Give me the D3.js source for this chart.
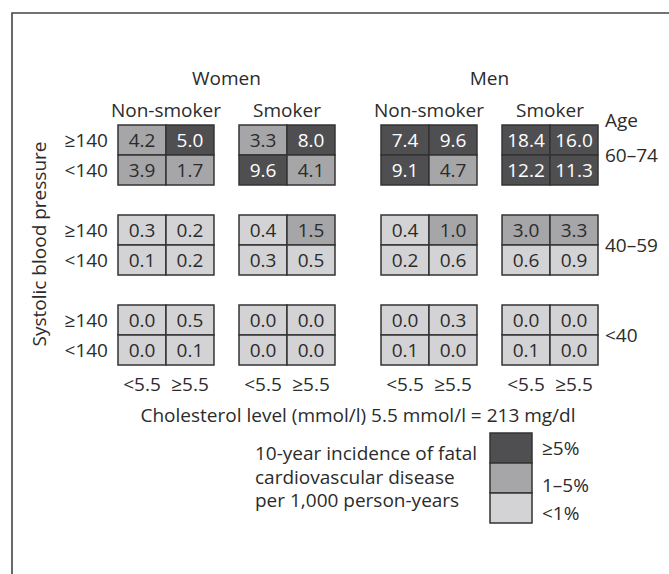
<!DOCTYPE html>
<html>
<head>
<meta charset="utf-8">
<script src="https://cdn.jsdelivr.net/npm/d3@7"></script>
<style>
  html, body { margin: 0; padding: 0; background: #fff; }
  svg { display: block; }
  text { font-family: "Open Sans", "Noto Sans", sans-serif; fill: #2b2b2b; }
</style>
</head>
<body>
<svg id="chart" width="669" height="574"></svg>
<script>
// ---- data ----
const sexes = ["Women", "Men"];
const smoking = ["Non-smoker", "Smoker"];
const cholLevels = ["<5.5", "≥5.5"];
const bpLevels = ["≥140", "<140"];
const ageGroups = ["60–74", "40–59", "<40"];
// each row: Women NS (<5.5, ≥5.5), Women S, Men NS, Men S
const age60to74_bpHigh = [4.2, 5.0, 3.3, 8.0, 7.4, 9.6, 18.4, 16.0];
const age60to74_bpLow  = [3.9, 1.7, 9.6, 4.1, 9.1, 4.7, 12.2, 11.3];
const age40to59_bpHigh = [0.3, 0.2, 0.4, 1.5, 0.4, 1.0, 3.0, 3.3];
const age40to59_bpLow  = [0.1, 0.2, 0.3, 0.5, 0.2, 0.6, 0.6, 0.9];
const ageUnder40_bpHigh = [0.0, 0.5, 0.0, 0.0, 0.0, 0.3, 0.0, 0.0];
const ageUnder40_bpLow  = [0.0, 0.1, 0.0, 0.0, 0.1, 0.0, 0.1, 0.0];
const riskThresholds = [1, 5];
const riskLabels = ["<1%", "1–5%", "≥5%"];
const legendLines = ["10-year incidence of fatal", "cardiovascular disease", "per 1,000 person-years"];
const xTitle = "Cholesterol level (mmol/l) 5.5 mmol/l = 213 mg/dl";
const yTitle = "Systolic blood pressure";

const rowsByAge = [
  [age60to74_bpHigh, age60to74_bpLow],
  [age40to59_bpHigh, age40to59_bpLow],
  [ageUnder40_bpHigh, ageUnder40_bpLow]
];

const cells = [];
ageGroups.forEach((age, ai) => {
  bpLevels.forEach((bp, bi) => {
    rowsByAge[ai][bi].forEach((v, k) => {
      cells.push({
        age, bp,
        sex: sexes[Math.floor(k / 4)],
        smoke: smoking[Math.floor(k / 2) % 2],
        chol: cholLevels[k % 2],
        value: v
      });
    });
  });
});

// ---- scales ----
const FS = 19;
const svg = d3.select("#chart");
const sexX = d3.scaleBand().domain(sexes).range([118, 598]).paddingInner(0.175);
const smokeX = d3.scaleBand().domain(smoking).range([0, sexX.bandwidth()]).paddingInner(0.207);
const cholX = d3.scaleBand().domain(cholLevels).range([0, smokeX.bandwidth()]);
const ageY = d3.scaleBand().domain(ageGroups).range([125, 365]).paddingInner(1 / 3);
const bpY = d3.scaleBand().domain(bpLevels).range([0, ageY.bandwidth()]);

const colors = ["#d3d3d5", "#a6a6a8", "#4f4f51"];
const color = d3.scaleThreshold().domain(riskThresholds).range(colors);
const textColor = d3.scaleThreshold().domain(riskThresholds).range(["#2b2b2b", "#2b2b2b", "#ffffff"]);

const panelX = (sex, smoke) => sexX(sex) + smokeX(smoke);

// ---- frame ----
svg.append("path")
  .attr("d", "M12,574 V13 H669")
  .attr("fill", "none").attr("stroke", "#444").attr("stroke-width", 1.6);

// ---- cells ----
const g = svg.append("g");
g.selectAll("rect.cell").data(cells).join("rect")
  .attr("class", "cell")
  .attr("x", d => panelX(d.sex, d.smoke) + cholX(d.chol))
  .attr("y", d => ageY(d.age) + bpY(d.bp))
  .attr("width", cholX.bandwidth())
  .attr("height", bpY.bandwidth())
  .attr("fill", d => color(d.value))
  .attr("stroke", "#333")
  .attr("stroke-width", 1.5);

g.selectAll("text.val").data(cells).join("text")
  .attr("class", "val")
  .attr("x", d => panelX(d.sex, d.smoke) + cholX(d.chol) + cholX.bandwidth() / 2)
  .attr("y", d => ageY(d.age) + bpY(d.bp) + bpY.bandwidth() / 2)
  .attr("text-anchor", "middle")
  .attr("dominant-baseline", "central")
  .attr("font-size", FS)
  .style("fill", d => textColor(d.value))
  .text(d => d.value.toFixed(1));

// ---- sex headers ----
svg.selectAll("text.sex").data(sexes).join("text")
  .attr("class", "sex")
  .attr("x", d => sexX(d) + sexX.bandwidth() / 2)
  .attr("y", 78)
  .attr("text-anchor", "middle").attr("dominant-baseline", "central")
  .attr("font-size", FS)
  .text(d => d);

// ---- smoking headers ----
const smokeHeads = sexes.flatMap(s => smoking.map(m => ({ s, m })));
svg.selectAll("text.smk").data(smokeHeads).join("text")
  .attr("class", "smk")
  .attr("x", d => panelX(d.s, d.m) + smokeX.bandwidth() / 2)
  .attr("y", 110)
  .attr("text-anchor", "middle").attr("dominant-baseline", "central")
  .attr("font-size", FS)
  .text(d => d.m);

// ---- BP row labels ----
const bpHeads = ageGroups.flatMap(a => bpLevels.map(b => ({ a, b })));
svg.selectAll("text.bp").data(bpHeads).join("text")
  .attr("class", "bp")
  .attr("x", 108)
  .attr("y", d => ageY(d.a) + bpY(d.b) + bpY.bandwidth() / 2)
  .attr("text-anchor", "end").attr("dominant-baseline", "central")
  .attr("font-size", FS)
  .text(d => d.b);

// ---- age labels ----
const ageLabelX = sexX.range()[1] + 7;
svg.append("text")
  .attr("x", ageLabelX).attr("y", 120)
  .attr("dominant-baseline", "central").attr("font-size", FS)
  .text("Age");
svg.selectAll("text.age").data(ageGroups).join("text")
  .attr("class", "age")
  .attr("x", ageLabelX)
  .attr("y", d => ageY(d) + ageY.bandwidth() / 2)
  .attr("dominant-baseline", "central")
  .attr("font-size", FS)
  .text(d => d);

// ---- cholesterol tick labels ----
const cholHeads = smokeHeads.flatMap(p => cholLevels.map(c => ({ ...p, c })));
svg.selectAll("text.chol").data(cholHeads).join("text")
  .attr("class", "chol")
  .attr("x", d => panelX(d.s, d.m) + cholX(d.c) + cholX.bandwidth() / 2)
  .attr("y", 384)
  .attr("text-anchor", "middle").attr("dominant-baseline", "central")
  .attr("font-size", FS)
  .text(d => d.c);

// ---- axis titles ----
svg.append("text")
  .attr("x", (sexX.range()[0] + sexX.range()[1]) / 2)
  .attr("y", 415)
  .attr("text-anchor", "middle").attr("dominant-baseline", "central")
  .attr("font-size", FS)
  .text(xTitle);

svg.append("text")
  .attr("transform", "translate(39,244) rotate(-90)")
  .attr("text-anchor", "middle").attr("dominant-baseline", "central")
  .attr("font-size", FS)
  .text(yTitle);

// ---- legend ----
const legY = d3.scaleBand().domain(riskLabels.slice().reverse()).range([433, 523]);
const leg = svg.append("g");
leg.selectAll("rect").data(riskLabels.slice().reverse()).join("rect")
  .attr("x", 490).attr("width", 42)
  .attr("y", d => legY(d)).attr("height", legY.bandwidth())
  .attr("fill", d => colors[riskLabels.indexOf(d)])
  .attr("stroke", "#333").attr("stroke-width", 1.5);
const legLabelY = { "≥5%": 448, "1–5%": 485, "<1%": 513 };
leg.selectAll("text.ll").data(riskLabels.slice().reverse()).join("text")
  .attr("class", "ll")
  .attr("x", 542).attr("y", d => legLabelY[d])
  .attr("dominant-baseline", "central").attr("font-size", FS)
  .text(d => d);
leg.selectAll("text.lt").data(legendLines).join("text")
  .attr("class", "lt")
  .attr("x", 255).attr("y", (d, i) => 453 + i * 23.5)
  .attr("dominant-baseline", "central").attr("font-size", FS)
  .text(d => d);
</script>
</body>
</html>
